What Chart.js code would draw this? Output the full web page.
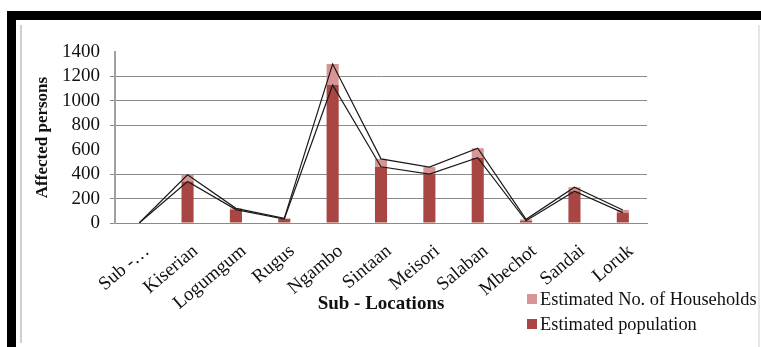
<!DOCTYPE html>
<html><head><meta charset="utf-8">
<script src="https://cdn.jsdelivr.net/npm/chart.js@4.4.0/dist/chart.umd.min.js"></script>
<style>
html,body{margin:0;padding:0;background:#fff;}
#wrap{position:relative;width:761px;height:347px;overflow:hidden;background:#fff;}
canvas{position:absolute;left:0;top:0;}
.f{position:absolute;}
</style></head><body>
<div id="wrap">
<canvas id="c" width="761" height="347"></canvas>
<div class="f" style="left:7px;top:11px;width:754px;height:9px;background:#000"></div>
<div class="f" style="left:7px;top:11px;width:9px;height:336px;background:#000"></div>
<div class="f" style="left:20px;top:25px;width:2px;height:318px;background:#cfcfcf"></div>
<div class="f" style="left:758px;top:25px;width:2px;height:322px;background:#e6e6e6"></div>
</div>
<script>
const categories = ['Sub -…','Kiserian','Logumgum','Rugus','Ngambo','Sintaan','Meisori','Salaban','Mbechot','Sandai','Loruk'];
const population = [0, 340, 110, 33, 1130, 460, 400, 535, 18, 260, 85];
const households = [0, 55, 10, 5, 172, 65, 58, 77, 12, 33, 22];
const yMin = 0, yMax = 1400, yStep = 200;
const hiddenGrid = [600, 1400];

const popColor = '#A94643';
const hhColor = '#D99594';
const serif = "'Liberation Serif','Times New Roman',serif";

const legendPlugin = {
  id: 'customLegend',
  afterDraw(chart) {
    const ctx = chart.ctx;
    const items = [
      {label: 'Estimated No. of Households', color: hhColor, y: 299},
      {label: 'Estimated population', color: popColor, y: 324}
    ];
    ctx.save();
    ctx.font = '18.4px ' + serif;
    ctx.textBaseline = 'middle';
    ctx.textAlign = 'left';
    items.forEach(it => {
      ctx.fillStyle = it.color;
      ctx.fillRect(527, it.y - 5, 10, 10);
      ctx.fillStyle = '#111';
      ctx.fillText(it.label, 540, it.y + 1);
    });
    ctx.restore();
  }
};

const gridCol = (ctx) => (ctx.tick && hiddenGrid.includes(ctx.tick.value)) ? 'rgba(0,0,0,0)' : '#8a8a8a';

new Chart(document.getElementById('c'), {
  data: {
    labels: categories,
    datasets: [
      {type: 'line', label: 'pop line', data: population, stack: 'lines', borderColor: '#1a1a1a', borderWidth: 1.2, pointRadius: 0, tension: 0, fill: false, order: 0},
      {type: 'line', label: 'hh line', data: households, stack: 'lines', borderColor: '#1a1a1a', borderWidth: 1.2, pointRadius: 0, tension: 0, fill: false, order: 0},
      {type: 'bar', label: 'Estimated population', data: population, stack: 'bars', backgroundColor: popColor, order: 1, barPercentage: 0.25, categoryPercentage: 1},
      {type: 'bar', label: 'Estimated No. of Households', data: households, stack: 'bars', backgroundColor: hhColor, order: 1, barPercentage: 0.25, categoryPercentage: 1}
    ]
  },
  options: {
    responsive: false,
    animation: false,
    devicePixelRatio: 1,
    layout: {padding: {left: 22, top: 52, right: 114, bottom: 0}},
    plugins: {legend: {display: false}, tooltip: {enabled: false}},
    scales: {
      x: {
        stacked: true,
        grid: {display: false, drawTicks: false},
        border: {display: true, color: '#8a8a8a', width: 1},
        ticks: {minRotation: 40, maxRotation: 40, padding: 17, labelOffset: 8, color: '#111', font: {family: serif, size: 19}, autoSkip: false},
        title: {display: true, text: 'Sub - Locations', color: '#111', font: {family: serif, size: 19, weight: 'bold'}, padding: {top: 0, bottom: 32}},
        afterFit(scale) { scale.height = 347 - 223; }
      },
      y: {
        stacked: true,
        min: yMin, max: yMax,
        ticks: {stepSize: yStep, autoSkip: false, padding: 10, color: '#111', font: {family: serif, size: 19}, callback: (v) => String(v)},
        grid: {color: gridCol, tickColor: gridCol, tickLength: 5, lineWidth: 1},
        border: {display: true, color: '#a0a0a0', width: 2},
        title: {display: true, text: 'Affected persons', color: '#111', font: {family: serif, size: 17, weight: 'bold'}, padding: {top: 10, bottom: 0}},
        afterFit(scale) { scale.width = 115 - 22; }
      }
    }
  },
  plugins: [legendPlugin]
});
</script>
</body></html>
